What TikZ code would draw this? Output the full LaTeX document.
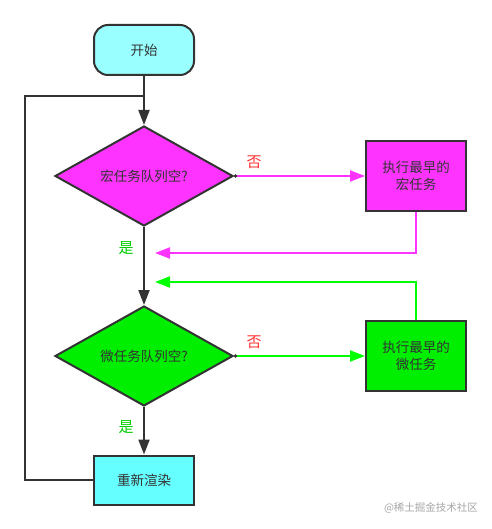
\documentclass[tikz,border=0pt]{standalone}
\usepackage{fontspec}
\setmainfont{Noto Sans CJK SC}
\usetikzlibrary{shapes.geometric, arrows.meta}

\definecolor{startcyan}{HTML}{99FFFF}
\definecolor{rendercyan}{HTML}{66FFFF}
\definecolor{macromag}{HTML}{FF33FF}
\definecolor{microgreen}{HTML}{00EE00}
\definecolor{microline}{HTML}{00FF00}
\definecolor{edgegray}{HTML}{333333}
\definecolor{nored}{HTML}{FF3333}
\definecolor{yesgreen}{HTML}{00CC00}

\tikzset{
    box/.style={draw=edgegray, line width=2pt, text=edgegray, align=center,
        minimum width=100pt, inner sep=0pt, font=\fontsize{13.5}{17}\selectfont},
    startbox/.style={box, rounded corners=14pt, minimum height=50pt, fill=startcyan},
    taskbox/.style={box, minimum height=70pt},
    renderbox/.style={box, minimum height=49pt, fill=rendercyan},
    question/.style={box, diamond, aspect=1.78, minimum width=178pt, minimum height=100pt},
    flow/.style={line width=2pt, draw=edgegray, -{Triangle[length=15pt, width=11pt]}},
    label/.style={font=\fontsize{15}{17}\selectfont}
}

\begin{document}
\begin{tikzpicture}[x=1pt, y=-1pt]
    \useasboundingbox (0,0) rectangle (491,529);

    % nodes
    \node[startbox] (start) at (144,50) {开始};
    \node[question, fill=macromag] (macroq) at (144,176) {宏任务队列空?};
    \node[taskbox, fill=macromag] (macrotask) at (416,176) {执行最早的\\宏任务};
    \node[question, fill=microgreen] (microq) at (144,356) {微任务队列空?};
    \node[taskbox, fill=microgreen] (microtask) at (416,356) {执行最早的\\微任务};
    \node[renderbox] (render) at (144,480) {重新渲染};

    \coordinate (loopjoin) at (144,96);
    \coordinate (loopcorner) at (25,96);
    \coordinate (macroback) at (155,253);
    \coordinate (microback) at (155,282);

    % main flow
    \draw[flow] (start) -- (macroq);
    \draw[flow] (macroq) -- (microq);
    \draw[flow] (microq) -- (render);
    \draw[line width=2pt, edgegray] (render.west) -| (loopcorner) -- (loopjoin);

    % branches
    \draw[flow, draw=macromag, {Circle[length=3pt, color=edgegray]}-{Triangle[length=15pt, width=11pt]}]
        (macroq.east) -- (macrotask.west);
    \draw[flow, draw=microline, {Circle[length=3pt, color=edgegray]}-{Triangle[length=15pt, width=11pt]}]
        (microq.east) -- (microtask.west);
    \draw[flow, draw=macromag] (macrotask.south) |- (macroback);
    \draw[flow, draw=microline] (microtask.north) |- (microback);

    % labels
    \node[label, text=nored] (macrono) at (254,162) {否};
    \node[label, text=nored] (microno) at (254,342) {否};
    \node[label, text=yesgreen] (macroyes) at (126,248) {是};
    \node[label, text=yesgreen] (microyes) at (126,427) {是};

    \node[font=\fontsize{10.5}{12}\selectfont, text=black!35] (mark) at (431,508) {@稀土掘金技术社区};
\end{tikzpicture}
\end{document}
